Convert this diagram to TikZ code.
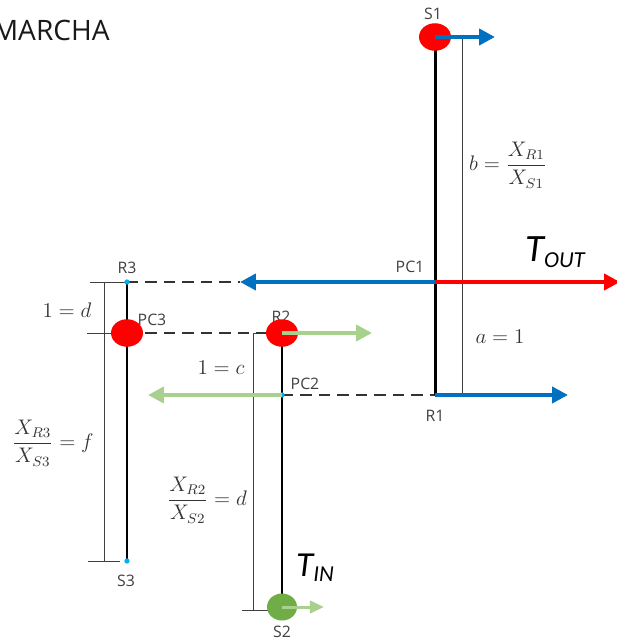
\documentclass[tikz,border=0pt]{standalone}
\usepackage{amsmath}
\usepackage{fontspec}
\setsansfont{Open Sans}
\newfontfamily\calibri{Carlito}
\usetikzlibrary{arrows.meta,shapes.geometric}

\definecolor{pblue}{RGB}{0,112,192}
\definecolor{pred}{RGB}{255,0,0}
\definecolor{pgreen}{RGB}{169,209,142}
\definecolor{dgreen}{RGB}{112,173,71}
\definecolor{dotblue}{RGB}{0,176,240}
\definecolor{labelgray}{RGB}{64,64,64}

\tikzset{
  lever/.style={line width=1.7pt},
  guide/.style={line width=0.5pt, black!75},
  link/.style={line width=1.1pt, dash pattern=on 6.5pt off 4pt, black!80},
  flow/.style={line width=2.4pt, -{Triangle[length=9pt,width=9pt]}},
  joint/.style={ellipse, fill=pred, minimum width=0.64cm, minimum height=0.55cm, inner sep=0},
  dotpt/.style={circle, fill=dotblue, minimum size=3pt, inner sep=0},
  lbl/.style={font=\sffamily\fontsize{9}{10}\selectfont, text=labelgray},
  eq/.style={font=\fontsize{12}{14}\selectfont, text=black!80},
  torque/.style={font=\calibri\itshape\fontsize{22}{24}\selectfont, text=black, inner sep=0},
}

\newcommand{\torq}[1]{T\raisebox{-0.3ex}{\fontsize{13}{13}\selectfont #1}}

\begin{document}
\begin{tikzpicture}[x=0.02cm,y=-0.02cm]
\useasboundingbox (0,0) rectangle (616,641);

% lever ends and contact points
\coordinate (s1) at (435,37);
\coordinate (pc1) at (435,282);
\coordinate (r1) at (435,395);
\coordinate (r2) at (282,333);
\coordinate (pc2) at (282,395);
\coordinate (s2) at (282,607);
\coordinate (r3) at (127,282);
\coordinate (pc3) at (127,333);
\coordinate (s3) at (127,561);

% arrow ends
\coordinate (s1e) at (495,37);
\coordinate (pc1w) at (240,282);
\coordinate (pc1e) at (620,282);
\coordinate (r1e) at (568,395);
\coordinate (r2e) at (372,333);
\coordinate (pc2w) at (148,395);
\coordinate (s2e) at (324,607);

\node[font=\sffamily\fontsize{16}{18}\selectfont, anchor=base east, inner sep=0, text=black!90] (title) at (110,41) {MARCHA};

% length brackets
\draw[guide] (462,37) -- (462,395);
\draw[guide] (268,333) -- (253,333) -- (253,610);
\draw[guide] (242,610) -- (268,610);
\draw[guide] (104,282) -- (104,561);
\draw[guide] (90,282) -- (125,282);
\draw[guide] (87,333) -- (125,333);
\draw[guide] (88,561) -- (120,561);

% couplings
\draw[link] (r3) -- (pc1w);
\draw[link] (pc3) -- (r2);
\draw[link] (pc2) -- (r1);

% levers
\draw[lever] (s1) -- (r1);
\draw[lever] (r2) -- (s2);
\draw[lever] (r3) -- (s3);

% labels
\node[lbl] (s1-l) at (433,14) {S1};
\node[lbl] (pc1-l) at (410,267) {PC1};
\node[lbl] (r1-l) at (435,416) {R1};
\node[lbl] (r2-l) at (281,317) {R2};
\node[lbl] (pc2-l) at (305,384) {PC2};
\node[lbl] (s2-l) at (282,632) {S2};
\node[lbl] (r3-l) at (127,268) {R3};
\node[lbl] (pc3-l) at (152,320) {PC3};
\node[lbl] (s3-l) at (126,581) {S3};

% joints
\node[joint] (s1-j) at (s1) {};
\node[joint] (pc3-j) at (pc3) {};
\node[joint] (r2-j) at (r2) {};
\node[joint, fill=dgreen, minimum width=0.6cm, minimum height=0.54cm] (s2-j) at (s2) {};
\node[dotpt] (pc2-d) at (pc2) {};
\node[dotpt] (r3-d) at (r3) {};
\node[dotpt] (s3-d) at (s3) {};

% speeds and torques
\draw[flow, pblue] (s1) -- (s1e);
\draw[flow, pblue] (pc1) -- (pc1w);
\draw[flow, pred] (pc1) -- (pc1e);
\draw[flow, pblue] (r1) -- (r1e);
\draw[flow, pgreen] (r2) -- (r2e);
\draw[flow, pgreen] (pc2) -- (pc2w);
\draw[flow, pgreen, line width=1.7pt, -{Triangle[length=8pt,width=7pt]}] (s2) -- (s2e);

\node[torque] (tout) at (555,252) {\torq{OUT}};
\node[torque, font=\calibri\itshape\fontsize{20}{22}\selectfont] (tin) at (315,568) {\torq{IN}};

% ratios
\node[eq] (ratio1) at (508,165) {$b=\dfrac{X_{R1}}{X_{S1}}$};
\node[eq] (arm1) at (500,337) {$a=1$};
\node[eq] (arm2) at (221,368) {$1=c$};
\node[eq] (ratio2) at (207,500) {$\dfrac{X_{R2}}{X_{S2}}=d$};
\node[eq] (arm3) at (67,310) {$1=d$};
\node[eq] (ratio3) at (53,443) {$\dfrac{X_{R3}}{X_{S3}}=f$};
\end{tikzpicture}
\end{document}
